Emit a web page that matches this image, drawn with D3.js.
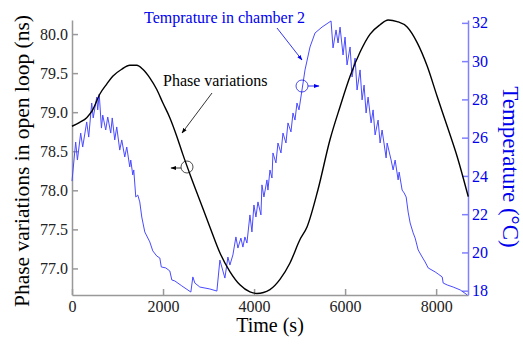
<!DOCTYPE html>
<html>
<head>
<meta charset="utf-8">
<title></title>
<style>
  body { margin: 0; background: #fff; }
</style>
</head>
<body>
<svg width="523" height="344"></svg>
<script src="https://d3js.org/d3.v7.min.js"></script>
<script>

// phase variations (black), time in s / phase in ns
var phaseTime = [0, 169, 323, 455, 609, 763, 895, 1093, 1269, 1423, 1555, 1709, 1863, 1995, 2149, 2303, 2435, 2589,
  2809, 3029, 3249, 3469, 3689, 3909, 4063, 4349, 4569, 4789, 5009, 5163, 5405, 5669, 5889, 6109, 6329, 6549,
  6769, 6945, 7143, 7363, 7583, 7803, 8023, 8243, 8463, 8705];
var phaseValue = [78.82, 78.87, 78.93, 79.03, 79.23, 79.36, 79.46, 79.55, 79.60, 79.60, 79.55, 79.44, 79.29, 79.12, 78.93, 78.69, 78.46, 78.21,
  77.87, 77.53, 77.20, 76.96, 76.79, 76.70, 76.68, 76.73, 76.86, 77.07, 77.37, 77.53, 78.01, 78.65, 79.07, 79.46, 79.77, 80.00,
  80.12, 80.18, 80.16, 80.09, 79.89, 79.59, 79.20, 78.82, 78.43, 77.92];

// temperature in chamber 2 (blue), time in s / degrees C
var tempTime = [0, 81, 119, 191, 235, 323, 367, 433, 466, 543, 565, 598, 647, 675, 741, 785, 851, 884, 939, 983,
  1049, 1093, 1159, 1203, 1269, 1291, 1335, 1357, 1401, 1445, 1489, 1533, 1599, 1709, 1775, 1863, 1929, 1962, 2061, 2149,
  2193, 2259, 2413, 2611, 2655, 2699, 2809, 3029, 3183, 3249, 3359, 3425, 3469, 3535, 3601, 3645, 3711, 3755, 3799, 3843,
  3909, 3953, 3997, 4041, 4085, 4151, 4173, 4217, 4283, 4305, 4349, 4393, 4415, 4481, 4525, 4591, 4635, 4701, 4745, 4811,
  4855, 4899, 4943, 4987, 5053, 5119, 5229, 5339, 5493, 5691, 5735, 5801, 5845, 5889, 5955, 5999, 6043, 6109, 6153, 6219,
  6263, 6329, 6373, 6417, 6461, 6505, 6571, 6615, 6659, 6725, 6769, 6813, 6901, 6923, 7011, 7055, 7099, 7165, 7187, 7253,
  7297, 7341, 7385, 7429, 7495, 7539, 7605, 7693, 7759, 7825, 7979, 8045, 8133, 8155, 8243, 8375, 8529, 8683];
var tempValue = [23.73, 25.77, 24.83, 26.24, 25.51, 26.82, 26.03, 27.81, 27.03, 28.12, 27.45, 28.28, 26.50, 27.18, 26.40, 27.08, 26.24, 27.03, 25.88, 26.56,
  25.35, 25.88, 24.99, 25.51, 24.47, 24.83, 24.05, 24.31, 22.90, 23.00, 22.64, 21.85, 21.07, 20.55, 20.08, 19.81, 19.71, 19.24, 19.19, 19.03,
  18.56, 18.51, 18.25, 17.93, 18.72, 18.40, 18.19, 18.09, 17.98, 19.60, 18.66, 19.76, 19.34, 19.87, 20.81, 20.23, 20.75, 20.28, 20.81, 20.49,
  21.96, 21.07, 22.48, 21.85, 22.64, 21.96, 23.53, 22.90, 23.79, 23.26, 24.31, 23.89, 25.20, 24.68, 25.72, 25.20, 26.24, 25.72, 26.77, 26.30,
  27.29, 26.92, 27.81, 27.45, 28.49, 29.54, 30.74, 31.47, 31.78, 32.10, 30.69, 31.63, 30.95, 31.78, 30.32, 31.26, 29.80, 30.74, 29.17, 30.16,
  28.49, 29.54, 27.97, 28.75, 27.29, 28.12, 26.77, 27.45, 26.14, 26.92, 25.72, 26.40, 24.94, 25.72, 24.83, 24.31, 24.83, 23.79, 24.20, 23.26,
  23.11, 22.90, 22.11, 21.54, 21.02, 20.75, 20.13, 19.76, 19.50, 19.19, 18.98, 18.87, 18.72, 18.40, 18.30, 18.19, 18.04, 17.78];

var timeTicks = [0, 2000, 4000, 6000, 8000];
var phaseTicks = [77.0, 77.5, 78.0, 78.5, 79.0, 79.5, 80.0];
var tempTicks = [18, 20, 22, 24, 26, 28, 30, 32];

var serif = '"Liberation Serif", "Times New Roman", serif';

var svg = d3.select("svg").style("font-family", serif),
    margin = {top: 20, right: 55, bottom: 49, left: 72},
    width = +svg.attr("width") - margin.left - margin.right,
    height = +svg.attr("height") - margin.top - margin.bottom,
    g = svg.append("g").attr("transform", "translate(" + margin.left + "," + margin.top + ")");

var blue = "#0000ee";

var x = d3.scaleLinear().domain([0, 8700]).range([0, width]);
var y = d3.scaleLinear().domain([76.66, 80.18]).range([height, 0]);
var y2 = d3.scaleLinear().domain([17.775, 32.15]).range([height, 0]);

var phase = phaseTime.map(function(t, i) { return {t: t, v: phaseValue[i]}; });
var temp = tempTime.map(function(t, i) { return {t: t, v: tempValue[i]}; });

// axes, ticks pointing inward
var xAxis = g.append("g")
    .attr("transform", "translate(0," + height + ")")
    .call(d3.axisBottom(x).tickValues(timeTicks).tickFormat(d3.format("d")).tickSize(-6).tickSizeOuter(0).tickPadding(6));
xAxis.attr("font-family", null);
xAxis.selectAll("line, path").attr("stroke", "#999").attr("stroke-width", 1.5);
xAxis.selectAll("text").style("font-family", serif).style("font-size", "16px").attr("fill", "#222");

var yAxis = g.append("g")
    .call(d3.axisLeft(y).tickValues(phaseTicks).tickFormat(d3.format(".1f")).tickSize(-6).tickSizeOuter(0).tickPadding(4));
yAxis.attr("font-family", null);
yAxis.selectAll("line, path").attr("stroke", "#999").attr("stroke-width", 1.5);
yAxis.selectAll("text").style("font-family", serif).style("font-size", "16px").attr("fill", "#222");

var yAxis2 = g.append("g")
    .attr("transform", "translate(" + width + ",0)")
    .call(d3.axisRight(y2).tickValues(tempTicks).tickSize(-6).tickSizeOuter(0).tickPadding(4));
yAxis2.attr("font-family", null);
yAxis2.selectAll("line, path").attr("stroke", "#8080ff").attr("stroke-width", 1.5);
yAxis2.selectAll("text").style("font-family", serif).style("font-size", "16px").attr("fill", blue);

var line2 = d3.line()
    .x(function(d) { return x(d.t); })
    .y(function(d) { return y2(d.v); });

g.append("path")
    .datum(temp)
    .attr("fill", "none")
    .attr("stroke", "#4a4aff")
    .attr("stroke-width", 1)
    .attr("stroke-linejoin", "round")
    .attr("d", line2);

g.append("path")
    .datum(phase)
    .attr("fill", "none")
    .attr("stroke", "#000")
    .attr("stroke-width", 1.4)
    .attr("d", d3.line().curve(d3.curveMonotoneX).x(function(d) { return x(d.t); }).y(function(d) { return y(d.v); }));

// axis titles
svg.append("text")
    .attr("transform", "translate(29,161) rotate(-90)")
    .attr("text-anchor", "middle")
    .style("font-size", "21.5px")
    .text("Phase variations in open loop (ns)");

svg.append("text")
    .attr("transform", "translate(503,167) rotate(90)")
    .attr("text-anchor", "middle")
    .style("font-size", "23px")
    .attr("fill", blue)
    .text("Temperature (°C)");

svg.append("text")
    .attr("x", margin.left + width / 2)
    .attr("y", 332)
    .attr("text-anchor", "middle")
    .style("font-size", "20px")
    .text("Time (s)");

// annotations
var defs = svg.append("defs");
function marker(id, color) {
  defs.append("marker")
      .attr("id", id)
      .attr("viewBox", "0 0 10 10")
      .attr("refX", 9).attr("refY", 5)
      .attr("markerWidth", 7).attr("markerHeight", 7)
      .attr("orient", "auto")
    .append("path")
      .attr("d", "M0,1.5L10,5L0,8.5z")
      .attr("fill", color);
}
marker("ab", "#000");
marker("ablue", blue);

svg.append("text")
    .attr("x", 163).attr("y", 86)
    .style("font-size", "16px")
    .text("Phase variations");
svg.append("line")
    .attr("x1", 212).attr("y1", 93).attr("x2", 182).attr("y2", 133)
    .attr("stroke", "#000").attr("stroke-width", 0.8).attr("marker-end", "url(#ab)");
svg.append("circle")
    .attr("cx", 187).attr("cy", 167).attr("r", 6)
    .attr("fill", "none").attr("stroke", "#000").attr("stroke-width", 0.7);
svg.append("line")
    .attr("x1", 181).attr("y1", 168).attr("x2", 171).attr("y2", 168)
    .attr("stroke", "#000").attr("stroke-width", 0.8).attr("marker-end", "url(#ab)");

svg.append("text")
    .attr("x", 144).attr("y", 23)
    .style("font-size", "16px")
    .attr("fill", blue)
    .text("Temprature in chamber 2");
svg.append("line")
    .attr("x1", 277).attr("y1", 28).attr("x2", 302).attr("y2", 60)
    .attr("stroke", blue).attr("stroke-width", 0.8).attr("marker-end", "url(#ablue)");
svg.append("circle")
    .attr("cx", 302).attr("cy", 86).attr("r", 6)
    .attr("fill", "none").attr("stroke", blue).attr("stroke-width", 0.7);
svg.append("line")
    .attr("x1", 308).attr("y1", 86).attr("x2", 319).attr("y2", 86)
    .attr("stroke", blue).attr("stroke-width", 0.8).attr("marker-end", "url(#ablue)");

</script>
</body>
</html>
